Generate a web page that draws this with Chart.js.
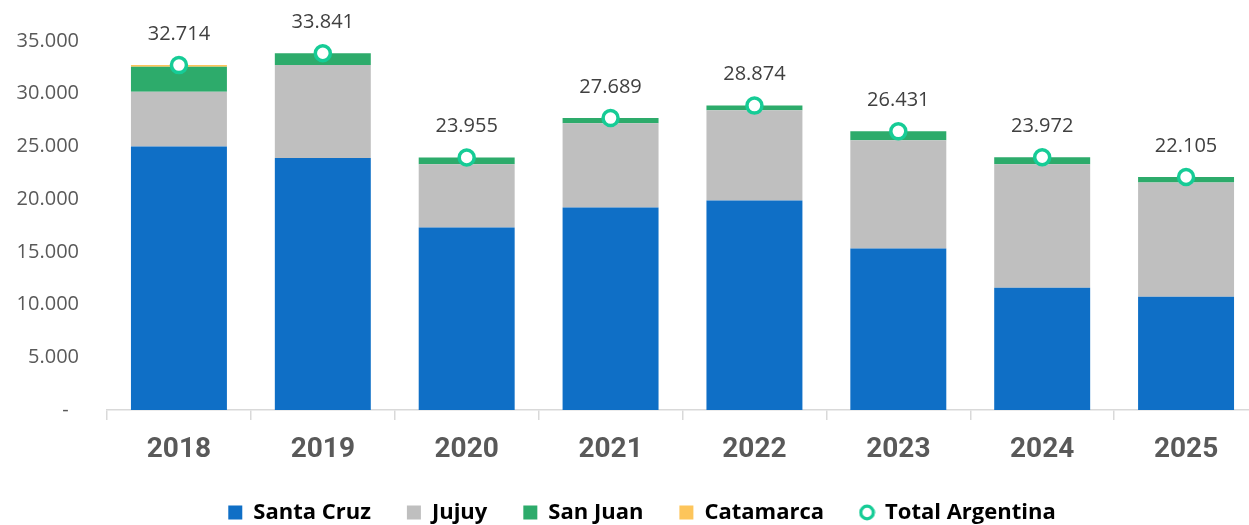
<!DOCTYPE html>
<html>
<head>
<meta charset="utf-8">
<script src="https://cdn.jsdelivr.net/npm/chart.js@4/dist/chart.umd.min.js"></script>
<style>
  html, body { margin: 0; padding: 0; background: #fff; overflow: hidden; }
  #wrap { width: 1269px; height: 525px; }
</style>
</head>
<body>
<div id="wrap"><canvas id="chart"></canvas></div>
<script>
const years = ['2018', '2019', '2020', '2021', '2022', '2023', '2024', '2025'];
const santaCruz = [25000, 23900, 17310, 19210, 19880, 15310, 11600, 10750];
const jujuy = [5180, 8820, 5990, 7990, 8560, 10275, 11700, 10840];
const sanJuan = [2380, 1121, 655, 489, 434, 846, 672, 515];
const catamarca = [154, 0, 0, 0, 0, 0, 0, 0];
const totalArgentina = [32714, 33841, 23955, 27689, 28874, 26431, 23972, 22105];
const yTicks = [0, 5000, 10000, 15000, 20000, 25000, 30000, 35000];

const TEAL = '#16cc96';

function fmt(v) {
    return String(v).replace(/\B(?=(\d{3})+(?!\d))/g, '.');
}

// small ring used as the legend icon of the total series
const ring = document.createElement('canvas');
ring.width = 17; ring.height = 17;
(function () {
    const c = ring.getContext('2d');
    c.beginPath();
    c.arc(8.5, 8.5, 6.3, 0, Math.PI * 2);
    c.fillStyle = '#fff';
    c.fill();
    c.lineWidth = 3.2;
    c.strokeStyle = TEAL;
    c.stroke();
})();

const tweaks = {
    id: 'tweaks',
    afterLayout(chart) {
        const lg = chart.legend;
        lg.left += 9; lg.right += 9;
        lg.top += 8.5; lg.bottom += 8.5;
    },
    afterDatasetsDraw(chart) {
        const ctx = chart.ctx;
        const meta = chart.getDatasetMeta(4);
        ctx.save();
        ctx.font = '20px "Open Sans"';
        ctx.fillStyle = '#404040';
        ctx.textAlign = 'center';
        ctx.textBaseline = 'middle';
        meta.data.forEach((pt, i) => {
            ctx.fillText(fmt(totalArgentina[i]), pt.x, pt.y - 31);
        });
        ctx.restore();
    }
};

function barSet(label, data, color) {
    return {
        type: 'bar',
        label,
        data,
        backgroundColor: color,
        borderWidth: 0,
        stack: 'prov',
        order: 1,
        barPercentage: 0.667,
        categoryPercentage: 1
    };
}

function draw() {
    new Chart(document.getElementById('chart'), {
        data: {
            labels: years,
            datasets: [
                barSet('Santa Cruz', santaCruz, '#0f6fc6'),
                barSet('Jujuy', jujuy, '#bfbfbf'),
                barSet('San Juan', sanJuan, '#2dab6b'),
                barSet('Catamarca', catamarca, '#fdc55b'),
                {
                    type: 'line',
                    label: 'Total Argentina',
                    data: totalArgentina,
                    showLine: false,
                    stack: 'total',
                    order: 0,
                    pointStyle: 'circle',
                    pointRadius: 7.5,
                    pointBorderWidth: 3.5,
                    pointBackgroundColor: '#fff',
                    pointBorderColor: TEAL
                }
            ]
        },
        options: {
            responsive: true,
            maintainAspectRatio: false,
            animation: false,
            layout: { padding: { top: 41, right: 3, left: 0, bottom: 0 } },
            plugins: {
                tooltip: { enabled: false },
                legend: {
                    position: 'bottom',
                    labels: {
                        usePointStyle: true,
                        boxWidth: 14,
                        boxHeight: 14,
                        padding: 36,
                        color: '#000',
                        font: { family: '"Open Sans"', size: 22, weight: 'bold' },
                        generateLabels(chart) {
                            const items = Chart.defaults.plugins.legend.labels.generateLabels(chart);
                            items.forEach(it => {
                                if (it.datasetIndex === 4) {
                                    it.pointStyle = ring;
                                } else {
                                    it.pointStyle = 'rect';
                                    it.lineWidth = 0;
                                    it.strokeStyle = 'transparent';
                                }
                            });
                            return items.sort((a, b) => a.datasetIndex - b.datasetIndex);
                        }
                    }
                }
            },
            scales: {
                x: {
                    stacked: true,
                    offset: true,
                    grid: {
                        offset: true,
                        drawOnChartArea: false,
                        drawTicks: true,
                        tickLength: 10,
                        color: '#d9d9d9',
                        lineWidth: 1.5
                    },
                    border: { color: '#d9d9d9', width: 1.5 },
                    ticks: {
                        color: '#595959',
                        padding: 13,
                        font: { family: 'Roboto', size: 28, weight: 'bold' }
                    },
                    afterFit(scale) { scale.height = 47; }
                },
                y: {
                    stacked: true,
                    min: 0,
                    max: 35000,
                    grid: { display: false, drawTicks: false },
                    border: { display: false },
                    afterBuildTicks(scale) {
                        scale.ticks = yTicks.map(v => ({ value: v }));
                    },
                    ticks: {
                        color: '#595959',
                        padding: 28,
                        font: { family: '"Open Sans"', size: 20 },
                        callback: v => v === 0 ? '-  ' : fmt(v)
                    },
                    afterFit(scale) { scale.width = 107; }
                }
            }
        },
        plugins: [tweaks]
    });
}

Promise.all([
    document.fonts.load('20px "Open Sans"'),
    document.fonts.load('bold 22px "Open Sans"'),
    document.fonts.load('bold 28px Roboto')
]).then(draw, draw);
</script>
</body>
</html>
